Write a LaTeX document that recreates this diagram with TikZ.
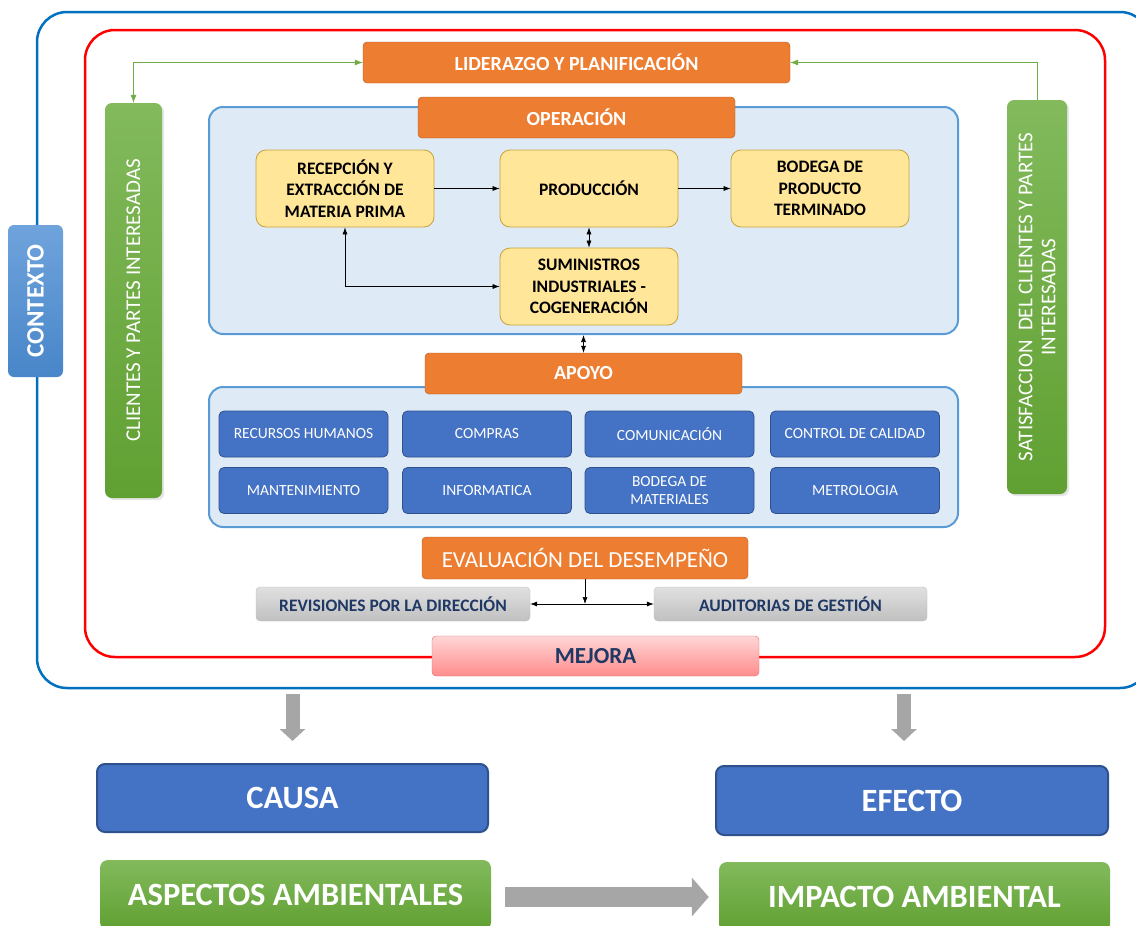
\documentclass[tikz,border=0pt]{standalone}
\usepackage{fontspec}
\setsansfont{Carlito}
\usetikzlibrary{arrows.meta, positioning, calc, shadows}
\definecolor{cFrame}{RGB}{0,112,192}
\definecolor{cRed}{RGB}{255,0,0}
\definecolor{cOrange}{RGB}{237,125,49}
\definecolor{cOrangeD}{RGB}{174,90,33}
\definecolor{cPale}{RGB}{222,235,247}
\definecolor{cPaleD}{RGB}{91,155,213}
\definecolor{cYellow}{RGB}{255,230,153}
\definecolor{cYellowD}{RGB}{201,161,58}
\definecolor{cBlue}{RGB}{68,114,196}
\definecolor{cBlueD}{RGB}{47,82,143}
\definecolor{cGreenL}{RGB}{130,186,92}
\definecolor{cGreenD}{RGB}{96,160,50}
\definecolor{cCtxL}{RGB}{111,163,220}
\definecolor{cCtxD}{RGB}{72,134,201}
\definecolor{cNavy}{RGB}{31,56,100}
\definecolor{cGrayL}{RGB}{224,224,224}
\definecolor{cGrayD}{RGB}{192,192,192}
\definecolor{cPinkL}{RGB}{255,214,214}
\definecolor{cPinkD}{RGB}{255,140,140}
\definecolor{cPinkB}{RGB}{228,108,108}
\definecolor{cArrow}{RGB}{166,166,166}
\definecolor{cLink}{RGB}{112,173,71}
\tikzset{
    font=\sffamily,
    % marcos exteriores
    frameNode/.style={
        rectangle, rounded corners=30pt, line width=2.5pt, inner sep=0pt
    },
    % cabeceras naranjas
    headNode/.style={
        rectangle, rounded corners=4pt, draw=cOrangeD, fill=cOrange, text=white,
        inner sep=0pt, minimum width=317pt, minimum height=41pt,
        font=\sffamily\bfseries\fontsize{20}{23}\selectfont
    },
    % zonas celestes
    areaNode/.style={
        rectangle, rounded corners=14pt, draw=cPaleD, fill=cPale, line width=2pt,
        inner sep=0pt, minimum width=749pt
    },
    % procesos de operación
    flowNode/.style={
        rectangle, rounded corners=10pt, draw=cYellowD, fill=cYellow, thick,
        inner sep=0pt, minimum width=178pt, minimum height=77pt, align=center,
        font=\sffamily\bfseries\fontsize{17.5}{21.5}\selectfont
    },
    % procesos de apoyo
    supportNode/.style={
        rectangle, rounded corners=5pt, draw=cBlueD, fill=cBlue, text=white, thick,
        inner sep=0pt, minimum width=169pt, minimum height=46pt, align=center,
        font=\sffamily\fontsize{15.5}{18}\selectfont
    },
    % barras laterales
    sideBar/.style={
        rectangle, rounded corners=7pt, rotate=90, top color=cGreenL, bottom color=cGreenD,
        text=white, inner sep=0pt, align=center, drop shadow={opacity=0.2},
        font=\sffamily\fontsize{21}{23}\selectfont
    },
    % evaluación
    checkNode/.style={
        rectangle, rounded corners=4pt, top color=cGrayL, bottom color=cGrayD, draw=cGrayD,
        text=cNavy, inner sep=0pt, minimum width=274pt, minimum height=34pt,
        font=\sffamily\bfseries\fontsize{17.5}{20}\selectfont
    },
    % causa / efecto
    bigNode/.style={
        rectangle, rounded corners=8pt, text=white, inner sep=0pt,
        minimum width=391pt, minimum height=68pt,
        font=\sffamily\bfseries\fontsize{32.5}{36}\selectfont
    },
    % conectores
    flow/.style={->, >={Latex[length=7pt, width=5pt]}, semithick, draw=black},
    greenLink/.style={->, >={Latex[length=8pt, width=6pt]}, semithick, draw=cLink},
    bigArrow/.style={draw=cArrow, line width=14pt, -{Triangle[length=12pt, width=25pt]}}
}

\begin{document}
\begin{tikzpicture}[x=1pt, y=-1pt]

	\useasboundingbox (0,0) rectangle (1136,926);
	\fill[white] (0,0) rectangle (1136,926);
	\clip (0,0) rectangle (1136,926);

	% 1. Marcos: contexto y sistema
	\node[frameNode, draw=cFrame, minimum width=1113pt, minimum height=676pt] (ctxFrame) at (593.5,350) {};
	\node[frameNode, draw=cRed, minimum width=1020pt, minimum height=627pt] (sysFrame) at (595,343.5) {};

	\node[rectangle, rounded corners=6pt, rotate=90, top color=cCtxL, bottom color=cCtxD, text=white,
		inner sep=0pt, minimum width=152pt, minimum height=55pt,
		font=\sffamily\bfseries\fontsize{25}{28}\selectfont] (contexto) at (35.5,301) {CONTEXTO};

	% 2. Liderazgo y partes interesadas
	\node[headNode, minimum width=427pt] (lider) at (576.5,62.5) {LIDERAZGO Y PLANIFICACIÓN};

	\node[sideBar, minimum width=395pt, minimum height=57pt] (clientes) at (133.5,300.5) {CLIENTES Y PARTES INTERESADAS};
	\node[sideBar, minimum width=394pt, minimum height=60pt] (satisf) at (1037,297) {
		SATISFACCION \ DEL CLIENTES Y PARTES\\
		INTERESADAS
	};

	\draw[greenLink, <->] (clientes.east) |- (lider.west);
	\draw[greenLink] (satisf.east) |- (lider.east);

	% 3. Operación
	\node[areaNode, minimum height=227pt] (opArea) at (583.5,220.5) {};
	\node[headNode] (opHead) at (576.5,117.5) {OPERACIÓN};

	\node[flowNode] (recep) at (345,188.5) {RECEPCIÓN Y\\ EXTRACCIÓN DE\\ MATERIA PRIMA};
	\node[flowNode] (prod) at (589,188.5) {PRODUCCIÓN};
	\node[flowNode] (bodega) at (820,188.5) {BODEGA DE\\ PRODUCTO\\ TERMINADO};
	\node[flowNode] (sumin) at (589,286.5) {SUMINISTROS\\ INDUSTRIALES -\\ COGENERACIÓN};

	\draw[flow] (recep) -- (prod);
	\draw[flow] (prod) -- (bodega);
	\draw[flow, <->] (prod) -- (sumin);
	\draw[flow, <->] (recep.south) |- (sumin.west);

	% 4. Apoyo
	\node[areaNode, minimum height=140pt] (apArea) at (583.5,457) {};
	\node[headNode] (apHead) at (583.5,373.5) {APOYO};
	\draw[flow, <->] (opArea.south) -- (apHead.north);

	\node[supportNode] (rrhh) at (303.5,434) {RECURSOS HUMANOS};
	\node[supportNode] (compras) at (487,434) {COMPRAS};
	\node[supportNode] (comunic) at (669.5,434) {COMUNICACIÓN};
	\node[supportNode] (calidad) at (855,434) {CONTROL DE CALIDAD};
	\node[supportNode] (mantto) at (303.5,490.5) {MANTENIMIENTO};
	\node[supportNode] (informa) at (487,490.5) {INFORMATICA};
	\node[supportNode] (bodMat) at (669.5,490.5) {BODEGA DE\\ MATERIALES};
	\node[supportNode] (metrol) at (855,490.5) {METROLOGIA};

	% 5. Evaluación y mejora
	\node[headNode, minimum width=326pt, minimum height=42pt,
		font=\sffamily\fontsize{23}{26}\selectfont] (evalHead) at (585,558) {EVALUACIÓN DEL DESEMPEÑO};

	\node[checkNode] (revis) at (393,604) {REVISIONES POR LA DIRECCIÓN};
	\node[checkNode, minimum width=273pt] (audit) at (790.5,604) {AUDITORIAS DE GESTIÓN};

	\coordinate (split) at (evalHead.south |- revis.east);
	\draw[flow] (evalHead.south) -- (split);
	\draw[flow] (split) -- (revis.east);
	\draw[flow] (split) -- (audit.west);

	\node[rectangle, rounded corners=4pt, top color=cPinkL, bottom color=cPinkD, draw=cPinkB, text=cNavy,
		inner sep=0pt, minimum width=327pt, minimum height=40pt,
		font=\sffamily\bfseries\fontsize{23}{26}\selectfont] (mejora) at (595.5,656) {MEJORA};

	% 6. Causa y efecto
	\node[bigNode, fill=cBlue, draw=cBlueD, line width=2pt] (causa) at (292.5,798) {CAUSA};
	\node[bigNode, fill=cBlue, draw=cBlueD, line width=2pt, minimum width=392pt, minimum height=69pt] (efecto) at (912,800.5) {EFECTO};

	\node[bigNode, top color=cGreenL, bottom color=cGreenD, minimum height=70pt] (aspectos) at (295.5,895) {ASPECTOS AMBIENTALES};
	\node[bigNode, top color=cGreenL, bottom color=cGreenD, minimum height=70pt] (impacto) at (914.5,897) {IMPACTO AMBIENTAL};

	\draw[bigArrow] ([yshift=-5pt]ctxFrame.south -| causa.north) -- ([yshift=22pt]causa.north);
	\draw[bigArrow] ([xshift=-8pt, yshift=-5pt]ctxFrame.south -| efecto.north) -- ([xshift=-8pt, yshift=24pt]efecto.north);
	\draw[bigArrow, line width=20pt, -{Triangle[length=17pt, width=38pt]}, shorten <=14pt, shorten >=10pt]
		(aspectos.east |- impacto.west) -- (impacto.west);

\end{tikzpicture}
\end{document}
